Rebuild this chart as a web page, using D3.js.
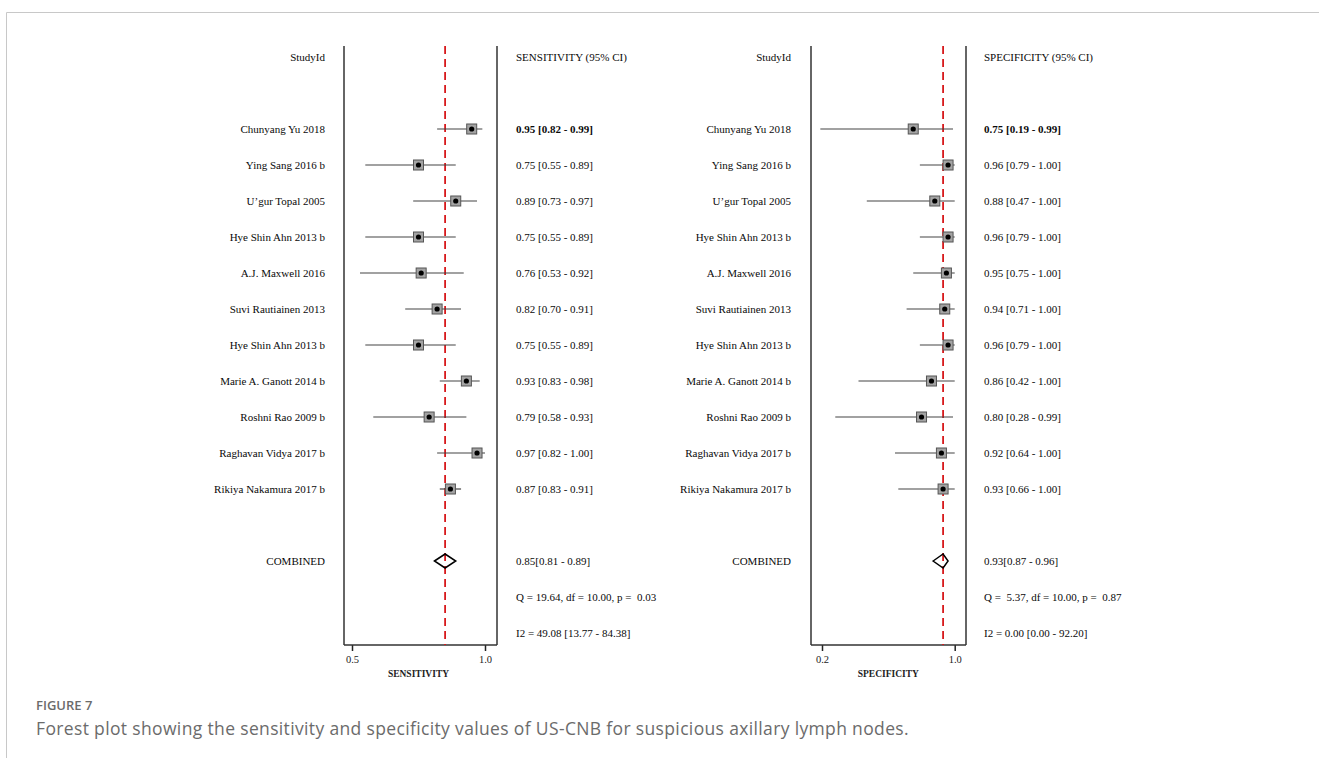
<!DOCTYPE html>
<html>
<head>
<meta charset="utf-8">
<script src="https://cdn.jsdelivr.net/npm/d3@7"></script>
<style>
  html, body { margin: 0; padding: 0; background: #fff; }
  svg { display: block; }
</style>
</head>
<body>
<svg id="chart" width="1319" height="758"></svg>
<script>
// Study labels (same order in both panels)
const studies = [
  "Chunyang Yu 2018", "Ying Sang 2016 b", "U\u02bcgur Topal 2005", "Hye Shin Ahn 2013 b",
  "A.J. Maxwell 2016", "Suvi Rautiainen 2013", "Hye Shin Ahn 2013 b", "Marie A. Ganott 2014 b",
  "Roshni Rao 2009 b", "Raghavan Vidya 2017 b", "Rikiya Nakamura 2017 b"
];

// Sensitivity estimates with 95% CI
const sensEst = [0.95, 0.75, 0.89, 0.75, 0.76, 0.82, 0.75, 0.93, 0.79, 0.97, 0.87];
const sensLo  = [0.82, 0.55, 0.73, 0.55, 0.53, 0.70, 0.55, 0.83, 0.58, 0.82, 0.83];
const sensHi  = [0.99, 0.89, 0.97, 0.89, 0.92, 0.91, 0.89, 0.98, 0.93, 1.00, 0.91];
const sensPooled = [0.85, 0.81, 0.89];
const sensQ = "Q = 19.64, df = 10.00, p =  0.03";
const sensI2 = "I2 = 49.08 [13.77 - 84.38]";
const sensTicks = [0.5, 1.0];

// Specificity estimates with 95% CI
const specEst = [0.75, 0.96, 0.88, 0.96, 0.95, 0.94, 0.96, 0.86, 0.80, 0.92, 0.93];
const specLo  = [0.19, 0.79, 0.47, 0.79, 0.75, 0.71, 0.79, 0.42, 0.28, 0.64, 0.66];
const specHi  = [0.99, 1.00, 1.00, 1.00, 1.00, 1.00, 1.00, 1.00, 0.99, 1.00, 1.00];
const specPooled = [0.93, 0.87, 0.96];
const specQ = "Q =  5.37, df = 10.00, p =  0.87";
const specI2 = "I2 = 0.00 [0.00 - 92.20]";
const specTicks = [0.2, 1.0];

const svg = d3.select("#chart");
const serif = "'Liberation Serif', 'Times New Roman', serif";
const ink = "#0a0a0a";

// Page frame
svg.append("line").attr("x1", 6.5).attr("x2", 1319).attr("y1", 12.5).attr("y2", 12.5)
  .attr("stroke", "#c8c8c8").attr("stroke-width", 1);
svg.append("line").attr("x1", 6.5).attr("x2", 6.5).attr("y1", 12.5).attr("y2", 758)
  .attr("stroke", "#c8c8c8").attr("stroke-width", 1);

// Row positions: studies, then a gap, then pooled + heterogeneity rows
const rowY = d3.scaleLinear().domain([0, 1]).range([129, 165]);
const pooledRow = 12, qRow = 13, i2Row = 14;

function panel(opt) {
  const g = svg.append("g");
  const x = d3.scaleLinear().domain(opt.domain).range(opt.range);
  const top = 46, bottom = 645;

  // Header
  g.append("text").attr("x", opt.labelX).attr("y", 61).attr("text-anchor", "end")
    .attr("font-family", serif).attr("font-size", 11).attr("fill", ink).text("StudyId");
  g.append("text").attr("x", opt.valX).attr("y", 61)
    .attr("font-family", serif).attr("font-size", 11).attr("fill", ink).text(opt.header);

  // Box sides
  g.append("line").attr("x1", opt.boxL).attr("x2", opt.boxL).attr("y1", top).attr("y2", bottom)
    .attr("stroke", "#333").attr("stroke-width", 1.5);
  g.append("line").attr("x1", opt.boxR).attr("x2", opt.boxR).attr("y1", top).attr("y2", bottom)
    .attr("stroke", "#333").attr("stroke-width", 1.5);

  // Bottom axis
  const axis = d3.axisBottom(x).tickValues(opt.ticks).tickFormat(d3.format(".1f")).tickSize(6).tickSizeOuter(0);
  const ax = g.append("g").attr("transform", `translate(0,${bottom})`).call(axis);
  ax.select(".domain").remove();
  ax.selectAll(".tick line").attr("stroke", "#222").attr("stroke-width", 1.5).attr("y1", 0).attr("y2", 6);
  ax.selectAll(".tick text").attr("font-family", serif).attr("font-size", 10.5).attr("fill", "#222").attr("dy", "0.71em").attr("y", 11);
  g.append("line").attr("x1", opt.boxL).attr("x2", opt.boxR).attr("y1", bottom).attr("y2", bottom)
    .attr("stroke", "#333").attr("stroke-width", 1.5);
  g.append("text").attr("x", (x(opt.ticks[0]) + x(opt.ticks[1])) / 2).attr("y", 677).attr("text-anchor", "middle")
    .attr("font-family", serif).attr("font-size", 9.5).attr("font-weight", "bold").attr("fill", "#222").text(opt.axisTitle);

  // Pooled estimate reference line
  g.append("line").attr("x1", x(opt.pooled[0])).attr("x2", x(opt.pooled[0]))
    .attr("y1", top).attr("y2", bottom)
    .attr("stroke", "#d7191c").attr("stroke-width", 1.8).attr("stroke-dasharray", "8,5");

  // Study rows
  const rows = g.selectAll("g.row").data(studies).join("g").attr("class", "row");
  rows.append("text").attr("x", opt.labelX).attr("y", (d, i) => rowY(i) + 4).attr("text-anchor", "end")
    .attr("font-family", serif).attr("font-size", 11).attr("fill", ink).text(d => d);
  rows.append("line")
    .attr("x1", (d, i) => x(opt.lo[i])).attr("x2", (d, i) => x(opt.hi[i]))
    .attr("y1", (d, i) => rowY(i)).attr("y2", (d, i) => rowY(i))
    .attr("stroke", "#444").attr("stroke-width", 1.2);
  rows.append("rect")
    .attr("x", (d, i) => x(opt.est[i]) - 5).attr("y", (d, i) => rowY(i) - 5)
    .attr("width", 10).attr("height", 10)
    .attr("fill", "#a3a3a3").attr("stroke", "#555").attr("stroke-width", 1);
  rows.append("circle")
    .attr("cx", (d, i) => x(opt.est[i])).attr("cy", (d, i) => rowY(i)).attr("r", 2.6)
    .attr("fill", "#000");
  rows.append("text").attr("x", opt.valX).attr("y", (d, i) => rowY(i) + 4)
    .attr("font-family", serif).attr("font-size", 11).attr("fill", ink)
    .attr("font-weight", (d, i) => i === 0 ? "bold" : "normal")
    .text((d, i) => `${opt.est[i].toFixed(2)} [${opt.lo[i].toFixed(2)} - ${opt.hi[i].toFixed(2)}]`);

  // Pooled diamond
  const py = rowY(pooledRow);
  const [pe, pl, ph] = opt.pooled;
  g.append("path")
    .attr("d", `M${x(pl)},${py} L${x(pe)},${py - 7} L${x(ph)},${py} L${x(pe)},${py + 7} Z`)
    .attr("fill", "none").attr("stroke", "#000").attr("stroke-width", 1.5);
  g.append("text").attr("x", opt.labelX).attr("y", py + 4).attr("text-anchor", "end")
    .attr("font-family", serif).attr("font-size", 11).attr("fill", ink).text("COMBINED");
  g.append("text").attr("x", opt.valX).attr("y", py + 4)
    .attr("font-family", serif).attr("font-size", 11).attr("fill", ink)
    .text(`${pe.toFixed(2)}[${pl.toFixed(2)} - ${ph.toFixed(2)}]`);
  g.append("text").attr("x", opt.valX).attr("y", rowY(qRow) + 4).attr("xml:space", "preserve")
    .attr("font-family", serif).attr("font-size", 11).attr("fill", ink).text(opt.q);
  g.append("text").attr("x", opt.valX).attr("y", rowY(i2Row) + 4)
    .attr("font-family", serif).attr("font-size", 11).attr("fill", ink).text(opt.i2);
}

panel({
  domain: [0.5, 1.0], range: [352, 485], ticks: sensTicks,
  boxL: 344, boxR: 497, labelX: 325, valX: 516,
  header: "SENSITIVITY (95% CI)", axisTitle: "SENSITIVITY",
  est: sensEst, lo: sensLo, hi: sensHi, pooled: sensPooled, q: sensQ, i2: sensI2
});

panel({
  domain: [0.2, 1.0], range: [822, 954.7], ticks: specTicks,
  boxL: 811, boxR: 966, labelX: 791, valX: 984,
  header: "SPECIFICITY (95% CI)", axisTitle: "SPECIFICITY",
  est: specEst, lo: specLo, hi: specHi, pooled: specPooled, q: specQ, i2: specI2
});

// Caption
svg.append("text").attr("x", 36).attr("y", 710)
  .attr("font-family", "'Open Sans', sans-serif").attr("font-size", 13).attr("font-weight", 600)
  .attr("fill", "#6b6b6b").text("FIGURE 7");
svg.append("text").attr("x", 36).attr("y", 735)
  .attr("font-family", "'Open Sans', sans-serif").attr("font-size", 17.5).attr("letter-spacing", 0.35)
  .attr("fill", "#6b6b6b")
  .text("Forest plot showing the sensitivity and specificity values of US-CNB for suspicious axillary lymph nodes.");
</script>
</body>
</html>
